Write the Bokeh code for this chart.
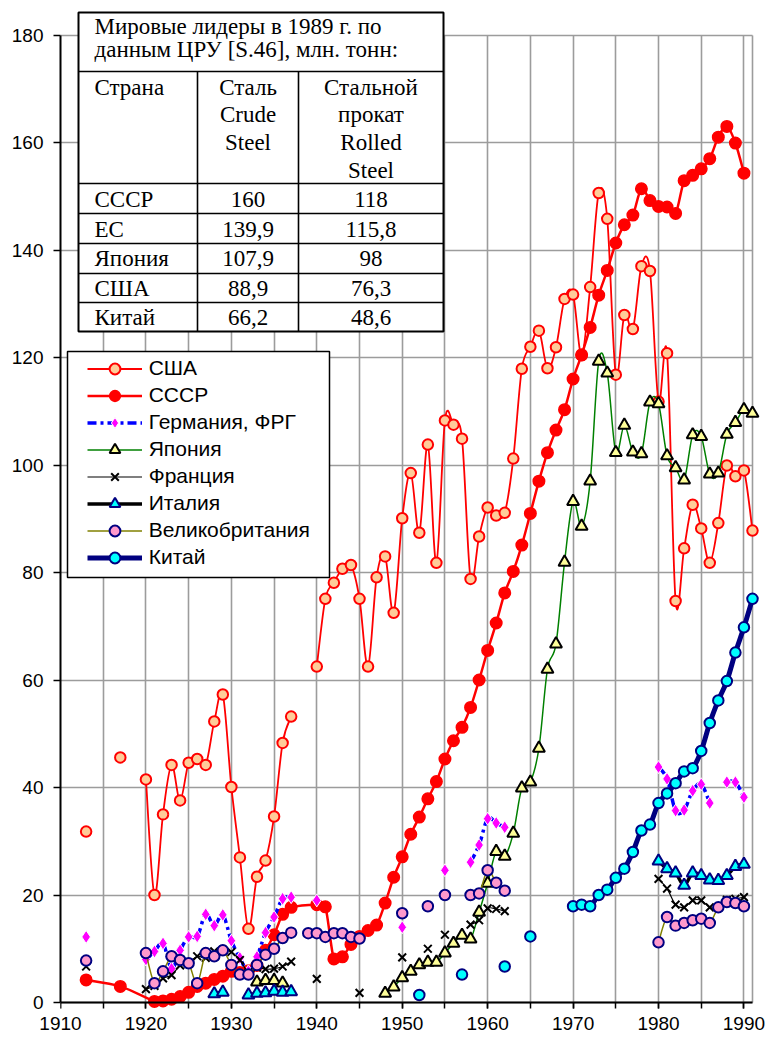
from bokeh.plotting import figure
from bokeh.models import Range1d, SingleIntervalTicker, FixedTicker, Legend, LegendItem, LinearAxis
from bokeh.core.properties import value
from bokeh.embed import file_html
from bokeh.resources import INLINE

N = None
# ---------------- data (None = break in the line) ----------------
usa_year = [1913, N, 1917, N, 1920, 1921, 1922, 1923, 1924, 1925, 1926, 1927, 1928, 1929, 1930, 1931,
            1932, 1933, 1934, 1935, 1936, 1937, N, 1940, 1941, 1942, 1943, 1944, 1945, 1946, 1947, 1948,
            1949, 1950, 1951, 1952, 1953, 1954, 1955, 1956, 1957, 1958, 1959, 1960, 1961, 1962, 1963,
            1964, 1965, 1966, 1967, 1968, 1969, 1970, 1971, 1972, 1973, 1974, 1975, 1976, 1977, 1978,
            1979, 1980, 1981, 1982, 1983, 1984, 1985, 1986, 1987, 1988, 1989, 1990, 1991]
usa_val = [31.8, N, 45.6, N, 41.5, 20.0, 35.0, 44.2, 37.6, 44.6, 45.3, 44.2, 52.3, 57.3, 40.1, 27.0,
           13.7, 23.4, 26.4, 34.6, 48.3, 53.2, N, 62.5, 75.1, 78.1, 80.7, 81.4, 75.1, 62.5, 79.1, 83.0,
           72.5, 90.1, 98.5, 87.4, 103.8, 81.8, 108.3, 107.5, 104.9, 78.8, 86.7, 92.1, 90.6, 91.1, 101.2,
           117.9, 122.0, 125.0, 118.0, 121.9, 130.9, 131.7, 120.4, 133.1, 150.6, 145.8, 116.8, 127.9, 125.3, 137.0,
           136.1, 111.8, 120.8, 74.7, 84.5, 92.6, 88.2, 81.8, 89.2, 99.9, 97.9, 99.0, 87.8]

ussr_year = [1913, 1917, 1921, 1922, 1923, 1924, 1925, 1926, 1927, 1928, 1929, 1930, 1931, 1932, 1933,
             1934, 1935, 1936, 1937, 1940, 1941, 1942, 1943, 1944, 1945, 1946, 1947, 1948, 1949, 1950,
             1951, 1952, 1953, 1954, 1955, 1956, 1957, 1958, 1959, 1960, 1961, 1962, 1963, 1964, 1965,
             1966, 1967, 1968, 1969, 1970, 1971, 1972, 1973, 1974, 1975, 1976, 1977, 1978, 1979, 1980,
             1981, 1982, 1983, 1984, 1985, 1986, 1987, 1988, 1989, 1990]
ussr_val = [4.2, 3.0, 0.2, 0.3, 0.6, 1.1, 1.9, 3.0, 3.6, 4.3, 4.9, 5.8, 5.6, 5.9, 6.9,
            9.7, 12.6, 16.4, 17.7, 18.2, 17.8, 8.1, 8.5, 10.8, 12.3, 13.4, 14.4, 18.5, 23.3, 27.1,
            31.3, 34.5, 37.9, 41.1, 45.3, 48.7, 51.2, 54.9, 60.0, 65.5, 70.6, 76.2, 80.2, 85.1, 91.0,
            97.0, 102.3, 106.5, 110.3, 116.0, 120.5, 125.6, 131.6, 136.2, 141.3, 144.7, 146.5, 151.4, 149.2, 148.1,
            148.0, 146.8, 152.9, 153.9, 155.1, 157.0, 161.0, 163.0, 159.9, 154.3]

ger_year = [1913, N, 1920, 1921, 1922, 1923, 1924, 1925, 1926, 1927, 1928, 1929, 1930, 1931, 1932, 1933,
            1934, 1935, 1936, 1937, N, 1940, N, 1950, N, 1955, N, 1958, 1959, 1960, 1961, 1962, N,
            1980, 1981, 1982, 1983, 1984, 1985, 1986, N, 1988, 1989, 1990]
ger_val = [12.2, N, 8.0, 9.5, 11.0, 6.3, 9.7, 12.2, 12.3, 16.4, 14.3, 16.3, 11.5, 8.3, 5.8, 8.5,
           13.0, 15.9, 19.3, 19.6, N, 19.0, N, 14.0, N, 24.6, N, 26.1, 29.3, 34.2, 33.4, 32.6, N,
           43.8, 41.6, 35.7, 35.8, 39.4, 40.6, 37.1, N, 41.0, 41.0, 38.2]

jap_year = [1933, 1934, 1935, 1936, N, 1948, 1949, 1950, 1951, 1952, 1953, 1954, 1955, 1956, 1957,
            1958, 1959, 1960, 1961, 1962, 1963, 1964, 1965, 1966, 1967, 1968, 1969, 1970, 1971, 1972,
            1973, 1974, 1975, 1976, 1977, 1978, 1979, 1980, 1981, 1982, 1983, 1984, 1985, 1986, 1987,
            1988, 1989, 1990, 1991]
jap_val = [3.8, 4.1, 4.1, 3.6, N, 1.7, 2.9, 4.6, 5.8, 7.0, 7.5, 7.5, 9.2, 11.0, 12.5,
           11.8, 16.8, 22.2, 28.1, 27.2, 31.5, 39.9, 41.0, 47.3, 62.0, 66.7, 81.9, 93.2, 88.6, 97.0,
           119.3, 117.1, 102.3, 107.4, 102.4, 102.1, 111.7, 111.4, 101.7, 99.5, 97.2, 105.6, 105.3, 98.3, 98.5,
           105.7, 107.9, 110.3, 109.6]

fra_year = [1913, N, 1920, 1921, 1922, 1923, 1924, 1925, 1926, 1927, 1928, 1929, 1930, 1931, 1932, 1933,
            1934, 1935, 1936, 1937, N, 1940, N, 1945, N, 1950, N, 1953, N, 1955, N, 1958, 1959, 1960,
            1961, 1962, N, 1980, 1981, 1982, 1983, 1984, 1985, 1986, 1987, 1988, 1989, 1990]
fra_val = [6.7, N, 2.5, 3.1, 4.5, 5.1, 6.9, 7.4, 8.6, 8.3, 9.5, 9.8, 9.4, 7.9, 5.6, 6.5,
           6.2, 6.3, 6.7, 7.6, N, 4.4, N, 1.8, N, 8.4, N, 10.0, N, 12.6, N, 14.5, 15.3, 17.5,
           17.4, 17.0, N, 23.0, 21.2, 18.2, 17.7, 19.0, 19.0, 17.7, 17.7, 19.1, 19.3, 19.6]

ita_year = [1928, 1929, N, 1932, 1933, 1934, 1935, 1936, 1937, N,
            1980, 1981, 1982, 1983, 1984, 1985, 1986, 1987, 1988, 1989, 1990]
ita_val = [1.6, 1.9, N, 1.4, 1.7, 1.8, 2.1, 1.9, 2.0, N,
           26.3, 24.9, 24.1, 21.8, 24.1, 23.6, 22.8, 22.7, 23.6, 25.3, 25.7]

gb_year = [1913, N, 1920, 1921, 1922, 1923, 1924, 1925, 1926, 1927, 1928, 1929, 1930, 1931, 1932, 1933,
           1934, 1935, 1936, 1937, N, 1939, 1940, 1941, 1942, 1943, 1944, 1945, N, 1950, N, 1953, N,
           1955, N, 1958, 1959, 1960, 1961, 1962, N, 1980, 1981, 1982, 1983, 1984, 1985, 1986, 1987,
           1988, 1989, 1990]
gb_val = [7.8, N, 9.2, 3.6, 5.8, 8.6, 7.9, 7.3, 3.6, 9.2, 8.6, 9.7, 7.0, 5.2, 5.2, 7.0,
          8.9, 10.0, 12.0, 13.0, N, 12.9, 12.9, 12.2, 12.9, 12.9, 12.2, 11.9, N, 16.6, N, 17.9, N,
          20.0, N, 20.0, 20.3, 24.6, 22.3, 20.8, N, 11.2, 15.9, 14.3, 14.8, 15.3, 15.6, 14.8, 17.7,
          18.7, 18.5, 17.9]

chn_year = [1952, N, 1957, N, 1962, N, 1965, N, 1970, 1971, 1972, 1973, 1974, 1975, 1976, 1977, 1978,
            1979, 1980, 1981, 1982, 1983, 1984, 1985, 1986, 1987, 1988, 1989, 1990, 1991]
chn_val = [1.4, N, 5.2, N, 6.7, N, 12.3, N, 17.9, 18.2, 17.9, 20.0, 21.0, 23.2, 24.9, 28.0, 32.0,
           33.1, 37.1, 38.9, 40.8, 43.0, 43.6, 46.8, 52.0, 56.2, 59.8, 65.1, 69.8, 75.1]

series_names = ["США", "СССР", "Германия, ФРГ", "Япония", "Франция", "Италия", "Великобритания", "Китай"]

x_ticks_major = 10
x_grid_years = list(range(1915, 1991, 5)) + [1991]
y_tick_step = 20

table_title = ["Мировые лидеры в 1989 г. по", "данным ЦРУ [S.46], млн. тонн:"]
table_head_1 = ["Страна"]
table_head_2 = ["Сталь", "Crude", "Steel"]
table_head_3 = ["Стальной", "прокат", "Rolled", "Steel"]
table_country = ["СССР", "ЕС", "Япония", "США", "Китай"]
table_crude = ["160", "139,9", "107,9", "88,9", "66,2"]
table_rolled = ["118", "115,8", "98", "76,3", "48,6"]

# ---------------- geometry (page pixels -> data) ----------------
W, H = 770, 1039
PX_YEAR = 8.543
PX_UNIT = 5.375
FR_L, FR_R, FR_T, FR_B = 60, 760, 10, 1012   # frame edges on the page


def dx(px):
    return 1910 + (px - 60) / PX_YEAR


def dy(py):
    return (1002 - py) / PX_UNIT


p = figure(width=W, height=H, x_range=Range1d(dx(FR_L), dx(FR_R)), y_range=Range1d(dy(FR_B), dy(FR_T)),
           output_backend="svg", toolbar_location=None, title=None,
           min_border_left=FR_L, min_border_right=W - FR_R, min_border_top=FR_T, min_border_bottom=H - FR_B)
p.outline_line_color = None
p.background_fill_color = "white"
p.border_fill_color = "white"

GRID = "#9c9c9c"
p.xgrid.ticker = FixedTicker(ticks=x_grid_years)
p.ygrid.ticker = SingleIntervalTicker(interval=y_tick_step)
p.xgrid.grid_line_color = GRID
p.ygrid.grid_line_color = GRID
p.xgrid.grid_line_width = 1.6
p.ygrid.grid_line_width = 1.6
p.xgrid.cross_bounds = (0, 180)
p.ygrid.cross_bounds = (1910, 1991)
p.ygrid.bounds = (0, 180)

AX_FONT = "Liberation Sans"
xticker = SingleIntervalTicker(interval=x_ticks_major, num_minor_ticks=2)
xa = p.xaxis[0]
xa.ticker = xticker
xa.fixed_location = 0
xa.bounds = (1910, 1991)
xa.axis_line_width = 2
xa.axis_line_color = "black"
xa.major_tick_out = 6
xa.major_tick_in = 0
xa.minor_tick_out = 6
xa.minor_tick_in = 0
xa.major_tick_line_width = 1.5
xa.minor_tick_line_width = 1.5
xa.major_tick_line_color = "black"
xa.minor_tick_line_color = "black"
xa.major_label_text_alpha = 0

# labels-only axis at the bottom edge
xl = LinearAxis(ticker=xticker, axis_line_color=None, major_tick_line_color=None,
                minor_tick_line_color=None, major_tick_out=0, major_tick_in=0,
                minor_tick_out=0, minor_tick_in=0, major_label_standoff=4,
                major_label_text_font=AX_FONT, major_label_text_font_size="19px",
                major_label_text_color="black")
p.add_layout(xl, "below")

ya = p.yaxis[0]
ya.ticker = SingleIntervalTicker(interval=y_tick_step, num_minor_ticks=0)
ya.bounds = (0, 180)
ya.axis_line_width = 2
ya.axis_line_color = "black"
ya.major_tick_out = 7
ya.major_tick_in = 0
ya.major_tick_line_width = 1.5
ya.major_tick_line_color = "black"
ya.minor_tick_line_color = None
ya.major_label_standoff = 10
ya.major_label_text_font = AX_FONT
ya.major_label_text_font_size = "19px"
ya.major_label_text_color = "black"

# legend box (decoration)
p.quad(left=[dx(67)], right=[dx(329)], top=[dy(351)], bottom=[dy(577)],
       fill_color="white", line_color="black", line_width=1.5)


def runs(years, vals):
    out, cur = [], []
    for x, y in zip(years, vals):
        if x is None or y is None:
            if cur:
                out.append(cur)
            cur = []
        else:
            cur.append((x, y))
    if cur:
        out.append(cur)
    return out


def bezier_data(years, vals):
    d = dict(x0=[], y0=[], x1=[], y1=[], cx0=[], cy0=[], cx1=[], cy1=[])
    for r in runs(years, vals):
        n = len(r)
        for i in range(n - 1):
            xa_, ya_ = r[i - 1] if i > 0 else r[i]
            xb_, yb_ = r[i + 2] if i + 2 < n else r[i + 1]
            (x0, y0), (x1, y1) = r[i], r[i + 1]
            d["x0"].append(x0); d["y0"].append(y0)
            d["x1"].append(x1); d["y1"].append(y1)
            d["cx0"].append(x0 + (x1 - xa_) / 6.0); d["cy0"].append(y0 + (y1 - ya_) / 6.0)
            d["cx1"].append(x1 - (xb_ - x0) / 6.0); d["cy1"].append(y1 - (yb_ - y0) / 6.0)
    return d


def draw(years, vals, lcolor, lwidth, marker, size, fill, mline, mlw, dash="solid"):
    d = bezier_data(years, vals)
    rl = p.bezier(source=d, x0="x0", y0="y0", x1="x1", y1="y1", cx0="cx0", cy0="cy0",
                  cx1="cx1", cy1="cy1", line_color=lcolor, line_width=lwidth, line_dash=dash)
    xs = [x for x in years if x is not None]
    ys = [y for y in vals if y is not None]
    rm = p.scatter(x=xs, y=ys, marker=marker, size=size, fill_color=fill,
                   line_color=mline, line_width=mlw)
    return [rl, rm]


rend = []
rend.append(draw(usa_year, usa_val, "#FF0000", 1.8, "circle", 10.5, "#FFCC99", "#FF0000", 2))
rend.append(draw(ussr_year, ussr_val, "#FF0000", 2.5, "circle", 11.5, "#FF0000", "#FF0000", 1.5))
rend.append(draw(ger_year, ger_val, "#0000FF", 3.5, "diamond", 13, "#FF00FF", "white", 1, dash="9 4 3 4"))
rend.append(draw(jap_year, jap_val, "#008000", 1.5, "triangle", 12, "#FFFF99", "black", 2))
rend.append(draw(fra_year, fra_val, "black", 1.2, "x", 11, None, "black", 2))
rend.append(draw(ita_year, ita_val, "black", 3.5, "triangle", 12, "#00FFFF", "#000080", 2))
rend.append(draw(gb_year, gb_val, "#808000", 1.5, "circle", 10.5, "#FF99CC", "#000080", 2))
rend.append(draw(chn_year, chn_val, "#000080", 5, "circle", 10.5, "#00FFFF", "#000080", 2))

legend = Legend(items=[LegendItem(label=n, renderers=r) for n, r in zip(series_names, rend)],
                location=(86.7 - FR_L, FR_B - 570.8), padding=0, margin=0, spacing=0,
                glyph_width=55, glyph_height=27, label_standoff=7, label_height=20,
                label_text_font=AX_FONT, label_text_font_size="21px", label_text_color="black",
                border_line_alpha=0, background_fill_alpha=0)
p.add_layout(legend, "center")

# ---------------- table ----------------
TF = value("Liberation Serif")
TSZ = 23
TS = "%dpx" % TSZ
BOFF = 0.357 * TSZ   # empirical baseline correction of the svg text


def by(py):
    return dy(py - BOFF)


p.quad(left=[dx(78)], right=[dx(443)], top=[dy(12)], bottom=[dy(331)],
       fill_color="white", line_color="black", line_width=2)
hl = [71, 183, 213, 243, 273, 302]
p.segment(x0=[dx(78)] * len(hl), x1=[dx(443)] * len(hl), y0=[dy(v) for v in hl], y1=[dy(v) for v in hl],
          line_color="black", line_width=1.6)
p.segment(x0=[dx(197), dx(298)], x1=[dx(197), dx(298)], y0=[dy(71)] * 2, y1=[dy(331)] * 2,
          line_color="black", line_width=1.6)

p.text(x=[dx(94)] * 2, y=[by(34.5), by(57.5)], text=table_title, text_font=TF, text_font_size=TS,
       text_baseline="alphabetic", text_align="left", text_color="black")
hb = [95.7, 122.7, 150, 178.3]
p.text(x=[dx(94)], y=[by(hb[0])], text=table_head_1, text_font=TF, text_font_size=TS,
       text_baseline="alphabetic", text_align="left", text_color="black")
p.text(x=[dx(247.5)] * 3, y=[by(v) for v in hb[:3]], text=table_head_2, text_font=TF, text_font_size=TS,
       text_baseline="alphabetic", text_align="center", text_color="black")
p.text(x=[dx(370.5)] * 4, y=[by(v) for v in hb], text=table_head_3, text_font=TF, text_font_size=TS,
       text_baseline="alphabetic", text_align="center", text_color="black")
rb = [207.5, 237, 266.5, 296, 325]
p.text(x=[dx(94)] * 5, y=[by(v) for v in rb], text=table_country, text_font=TF, text_font_size=TS,
       text_baseline="alphabetic", text_align="left", text_color="black")
p.text(x=[dx(247.5)] * 5, y=[by(v) for v in rb], text=table_crude, text_font=TF, text_font_size=TS,
       text_baseline="alphabetic", text_align="center", text_color="black")
p.text(x=[dx(370.5)] * 5, y=[by(v) for v in rb], text=table_rolled, text_font=TF, text_font_size=TS,
       text_baseline="alphabetic", text_align="center", text_color="black")

open("out.html", "w").write(file_html(p, INLINE))
